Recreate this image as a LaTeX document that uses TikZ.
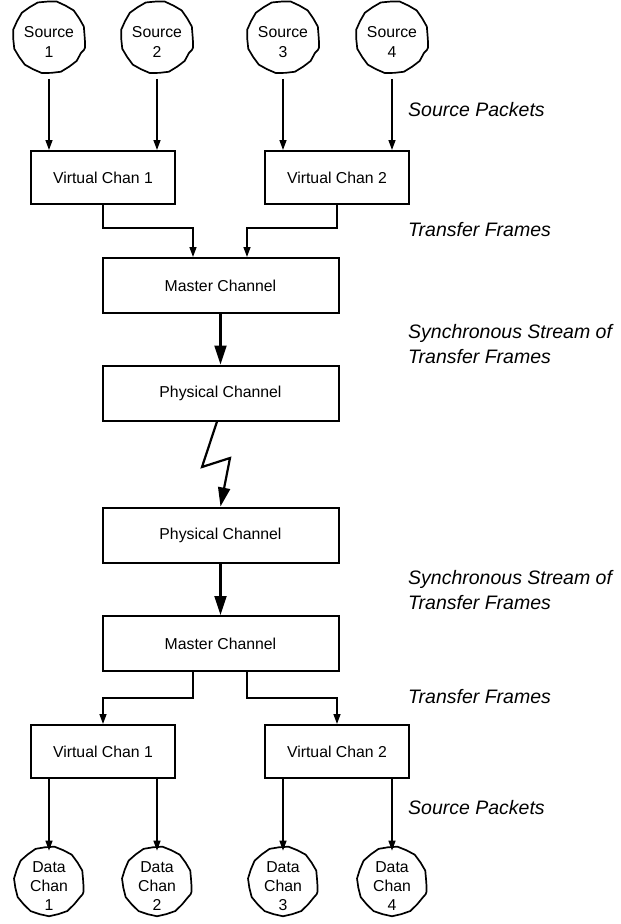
\documentclass[tikz,border=0pt]{standalone}
\usepackage{fontspec}
\setmainfont{Liberation Sans}
\usetikzlibrary{arrows.meta,decorations.pathmorphing}
\begin{document}
\begin{tikzpicture}[x=1pt,y=-1pt,
  box/.style={draw, line width=2pt, minimum width=144pt, minimum height=53pt, inner sep=0pt, font=\fontsize{15.8}{19}\selectfont},
  wide/.style={box, minimum width=236pt, minimum height=55pt},
  blob/.style={circle, draw, line width=1.7pt, minimum size=72pt, inner sep=0pt, align=center,
    font=\fontsize{15.8}{20}\selectfont, decorate, decoration={snake, segment length=19pt, amplitude=0.4pt}},
  dblob/.style={blob, minimum size=69pt, font=\fontsize{15.8}{19}\selectfont},
  arr/.style={line width=1.4pt, -{Triangle[width=7pt,length=10pt]}},
  bigarr/.style={line width=2.2pt, -{Triangle[width=12pt,length=19pt]}},
  lab/.style={anchor=west, inner sep=0pt, align=left, font=\fontsize{19.5}{25}\selectfont\itshape}]
\useasboundingbox (0,0) rectangle (621,924);

% sources
\node[blob] (s1) at (49,42) {Source\\1};
\node[blob] (s2) at (157,42) {Source\\2};
\node[blob] (s3) at (283,42) {Source\\3};
\node[blob] (s4) at (392,42) {Source\\4};

% upper chain
\node[box] (vc1) at (103,177.5) {Virtual Chan 1};
\node[box] (vc2) at (337,177.5) {Virtual Chan 2};
\node[wide] (mc1) at (220.5,285.5) {Master Channel};
\node[wide] (pc1) at (220.5,393) {Physical Channel};

% lower chain
\node[wide] (pc2) at (220.5,535) {Physical Channel};
\node[wide] (mc2) at (220.5,643.5) {Master Channel};
\node[box] (lv1) at (103,751.5) {Virtual Chan 1};
\node[box] (lv2) at (337,751.5) {Virtual Chan 2};

% sinks
\node[dblob] (d1) at (49,886) {Data\\Chan\\1};
\node[dblob] (d2) at (157,886) {Data\\Chan\\2};
\node[dblob] (d3) at (283,886) {Data\\Chan\\3};
\node[dblob] (d4) at (392,886) {Data\\Chan\\4};

% labels
\node[lab] (l1) at (408,110) {Source Packets};
\node[lab] (l2) at (408,230) {Transfer Frames};
\node[lab] (l3) at (408,344.5) {Synchronous Stream of\\Transfer Frames};
\node[lab] (l4) at (408,590.5) {Synchronous Stream of\\Transfer Frames};
\node[lab] (l5) at (408,697) {Transfer Frames};
\node[lab] (l6) at (408,808) {Source Packets};

% source -> virtual channel
\draw[arr] (s1.south) -- (s1.south |- vc1.north);
\draw[arr] (s2.south) -- (s2.south |- vc1.north);
\draw[arr] (s3.south) -- (s3.south |- vc2.north);
\draw[arr] (s4.south) -- (s4.south |- vc2.north);

% virtual channels -> master
\draw[arr] (vc1.south) -- ++(0,23) -| ([xshift=-27.5pt]mc1.north);
\draw[arr] (vc2.south) -- ++(0,23) -| ([xshift=26.5pt]mc1.north);

% master -> physical
\draw[bigarr] (mc1.south) -- (pc1.north);

% lightning link
\coordinate (z1) at (202,467);
\coordinate (z2) at (230,458);
\draw[bigarr, line join=miter] ([xshift=-3.5pt]pc1.south) -- (z1) -- (z2) -- (pc2.north);

% physical -> master
\draw[bigarr] (pc2.south) -- (mc2.north);

% master -> virtual channels
\draw[arr] ([xshift=-27.5pt]mc2.south) -- ++(0,26) -| (lv1.north);
\draw[arr] ([xshift=26.5pt]mc2.south) -- ++(0,26) -| (lv2.north);

% virtual channels -> data channels
\draw[arr] (d1.north |- lv1.south) -- (d1.north);
\draw[arr] (d2.north |- lv1.south) -- (d2.north);
\draw[arr] (d3.north |- lv2.south) -- (d3.north);
\draw[arr] (d4.north |- lv2.south) -- (d4.north);
\end{tikzpicture}
\end{document}
